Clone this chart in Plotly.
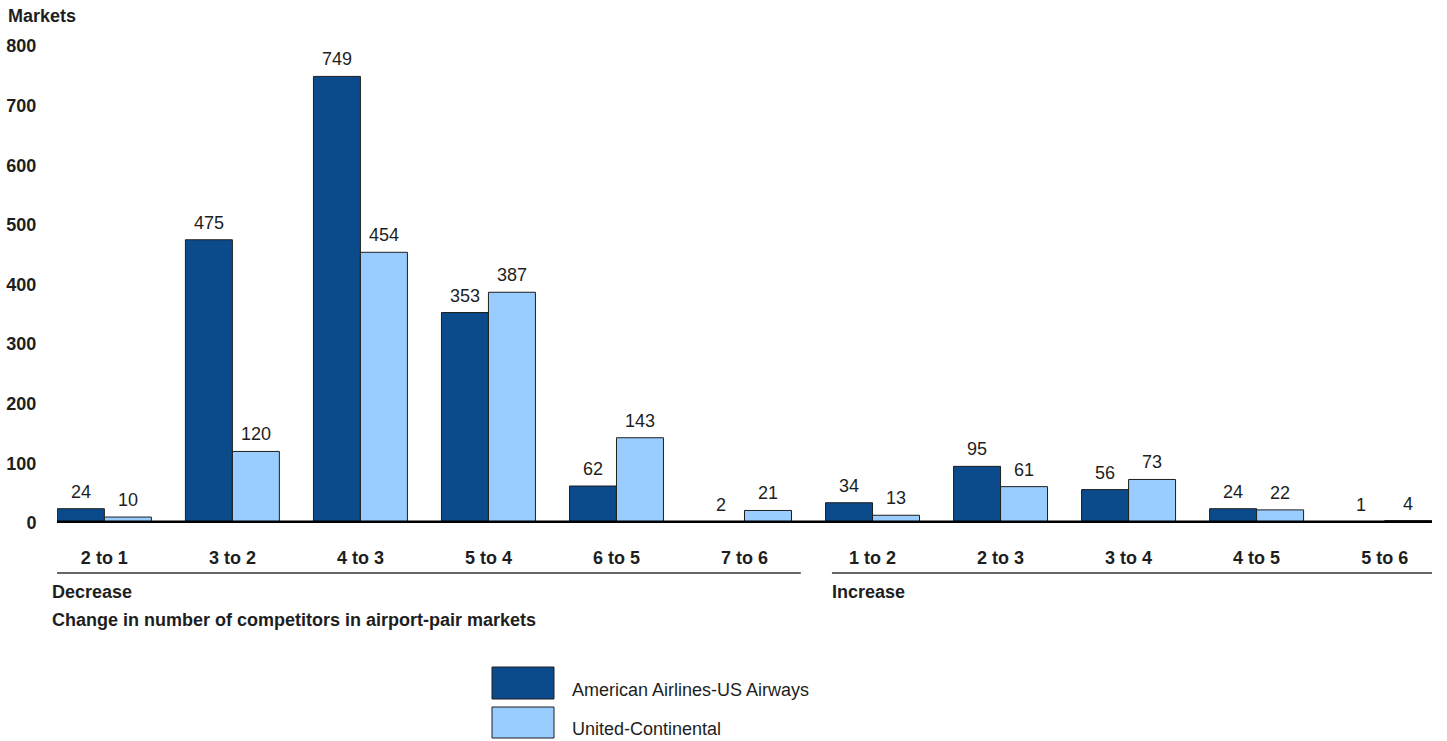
import plotly.graph_objects as go

# Airport-pair markets by change in number of competitors
categories = ["2 to 1", "3 to 2", "4 to 3", "5 to 4", "6 to 5", "7 to 6",
              "1 to 2", "2 to 3", "3 to 4", "4 to 5", "5 to 6"]
aa_us = [24, 475, 749, 353, 62, 2, 34, 95, 56, 24, 1]
united_cont = [10, 120, 454, 387, 143, 21, 13, 61, 73, 22, 4]
series_names = ["American Airlines-US Airways", "United-Continental"]
y_ticks = [0, 100, 200, 300, 400, 500, 600, 700, 800]

DARK = "#0b4a8b"
LIGHT = "#99ccff"
OUTLINE = "#1e1e1e"
TEXT = "#1e1e1e"
FONT = "Liberation Sans, Arial, sans-serif"
FS = 18

W, H = 1447, 741
L, R, T, B = 57, 15, 46, 218
PW, PH = W - L - R, H - T - B


def px_x(x):
    return (x - L) / PW


def px_y(y):
    return (T + PH - y) / PH


fig = go.Figure()
for name, vals, color in [(series_names[0], aa_us, DARK),
                          (series_names[1], united_cont, LIGHT)]:
    fig.add_trace(go.Bar(
        x=categories, y=vals, name=name,
        marker=dict(color=color, line=dict(color=OUTLINE, width=1)),
        showlegend=False, hoverinfo="x+y+name",
    ))

annotations = []
# value labels above each bar
for vals, shift in [(aa_us, -23.5), (united_cont, 23.5)]:
    for c, v in zip(categories, vals):
        annotations.append(dict(
            x=c, y=v, xref="x", yref="y", text=str(v), showarrow=False,
            xshift=shift, yshift=17, yanchor="middle",
            font=dict(family=FONT, size=FS, color=TEXT),
        ))

bold = dict(family=FONT, size=FS, color=TEXT)
annotations += [
    dict(x=px_x(6), y=px_y(16), xref="paper", yref="paper", text="<b>Markets</b>",
         showarrow=False, xanchor="left", yanchor="middle", font=bold),
    dict(x=px_x(50), y=px_y(592), xref="paper", yref="paper", text="<b>Decrease</b>",
         showarrow=False, xanchor="left", yanchor="middle", font=bold),
    dict(x=px_x(830), y=px_y(592), xref="paper", yref="paper", text="<b>Increase</b>",
         showarrow=False, xanchor="left", yanchor="middle", font=bold),
    dict(x=px_x(50), y=px_y(620), xref="paper", yref="paper",
         text="<b>Change in number of competitors in airport-pair markets</b>",
         showarrow=False, xanchor="left", yanchor="middle", font=bold),
]

shapes = [
    # heavy baseline
    dict(type="line", xref="paper", yref="y", x0=0, x1=1, y0=0, y1=0,
         line=dict(color="black", width=5), layer="above"),
    # group brackets under the category labels
    dict(type="line", xref="x", yref="paper", x0=-0.41, x1=5.44,
         y0=px_y(573), y1=px_y(573), line=dict(color="#333333", width=1.3)),
    dict(type="line", xref="x", yref="paper", x0=5.683, x1=10.43,
         y0=px_y(573), y1=px_y(573), line=dict(color="#333333", width=1.3)),
]

# legend swatches and labels
for (y0, y1, yc), color, name in [((667, 699, 690), DARK, series_names[0]),
                                  ((707, 738, 729), LIGHT, series_names[1])]:
    shapes.append(dict(type="rect", xref="paper", yref="paper",
                       x0=px_x(492), x1=px_x(554), y0=px_y(y1), y1=px_y(y0),
                       fillcolor=color, line=dict(color=OUTLINE, width=1)))
    annotations.append(dict(x=px_x(570), y=px_y(yc), xref="paper", yref="paper",
                            text=name, showarrow=False, xanchor="left",
                            yanchor="middle",
                            font=dict(family=FONT, size=FS, color=TEXT)))

fig.update_layout(
    width=W, height=H,
    margin=dict(l=L, r=R, t=T, b=B, autoexpand=False),
    paper_bgcolor="white", plot_bgcolor="white",
    barmode="group", bargap=0.266, bargroupgap=0,
    font=dict(family=FONT, size=FS, color=TEXT),
    xaxis=dict(
        type="category", range=[-0.37, 10.37], showgrid=False, zeroline=False,
        showline=False, ticks="outside", ticklen=18, tickcolor="rgba(0,0,0,0)",
        tickfont=dict(family=FONT, size=FS, color=TEXT), fixedrange=True,
        tickmode="array", tickvals=categories, automargin=False,
        ticktext=[f"<b>{c}</b>" for c in categories],
    ),
    yaxis=dict(
        range=[0, 800], showgrid=False, zeroline=False, showline=False,
        tickmode="array", tickvals=y_ticks, automargin=False,
        ticktext=[f"<b>{v}</b>" for v in y_ticks],
        ticks="outside", ticklen=16, tickcolor="rgba(0,0,0,0)",
        tickfont=dict(family=FONT, size=FS, color=TEXT), fixedrange=True,
    ),
    annotations=annotations,
    shapes=shapes,
)

fig.write_html("out.html")
